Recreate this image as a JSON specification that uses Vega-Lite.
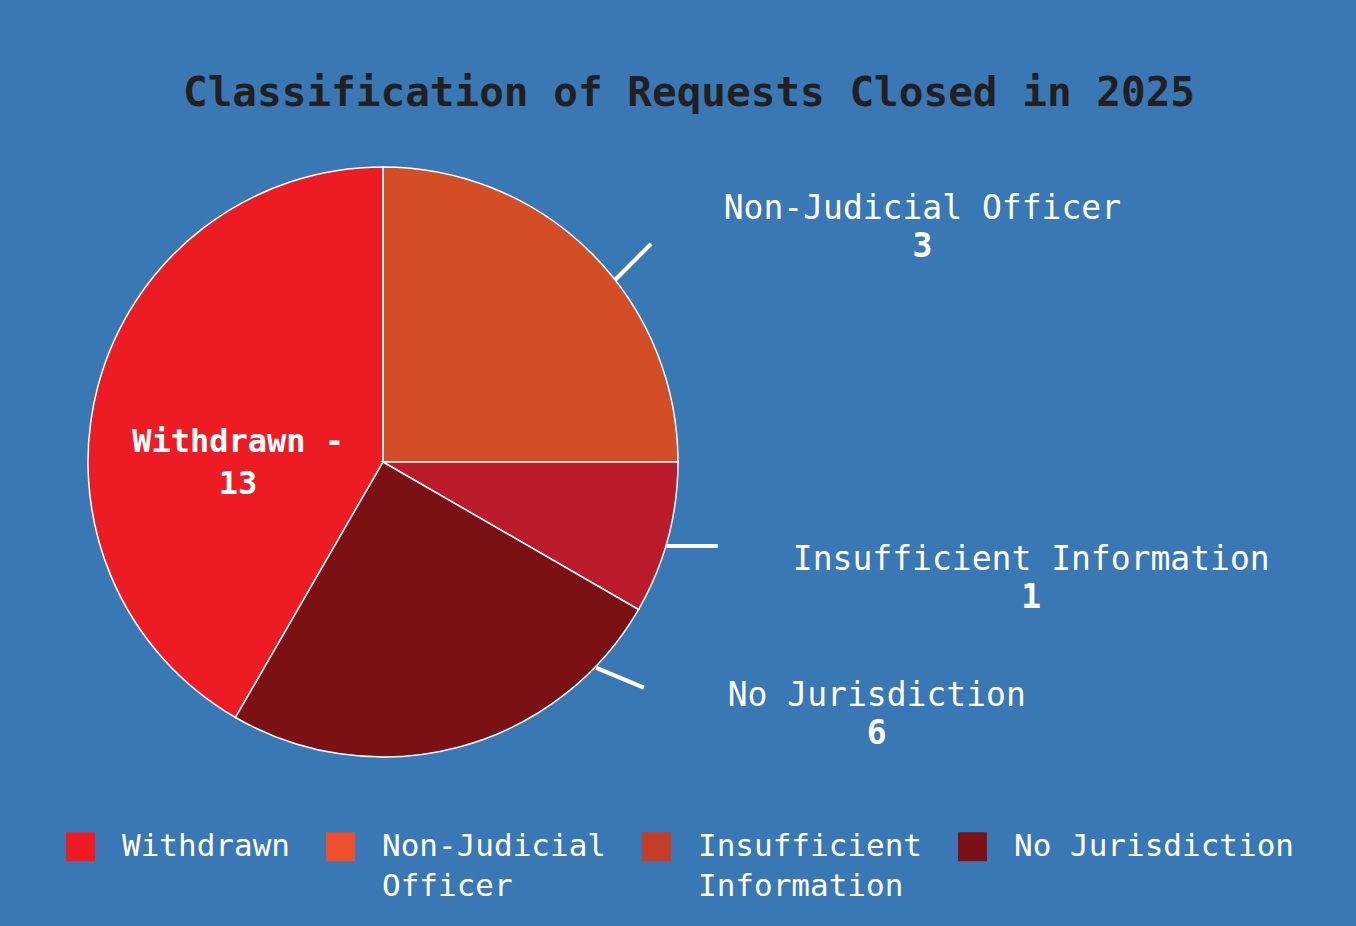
{
  "$schema": "https://vega.github.io/schema/vega-lite/v6.json",
  "autosize": {"type": "none"},
  "width": 590,
  "height": 590,
  "padding": {"left": 88, "top": 167, "right": 678, "bottom": 169},
  "background": "#3978B5",
  "config": {"view": {"stroke": null}},
  "title": {
    "text": "Classification of Requests Closed in 2025",
    "font": "DejaVu Sans Mono",
    "fontSize": 41,
    "fontWeight": "bold",
    "color": "#231F20",
    "anchor": "middle",
    "dx": 306,
    "offset": 49
  },
  "data": {
    "values": [
      {"category": "Withdrawn", "count": 13, "share": 5},
      {"category": "Non-Judicial Officer", "count": 3, "share": 3},
      {"category": "Insufficient Information", "count": 1, "share": 1},
      {"category": "No Jurisdiction", "count": 6, "share": 3}
    ]
  },
  "transform": [{"window": [{"op": "row_number", "as": "idx"}]}],
  "resolve": {"scale": {"theta": "independent", "radius": "independent"}},
  "layer": [
    {
      "mark": {"type": "arc", "stroke": "white", "strokeWidth": 1.5},
      "encoding": {
        "theta": {"field": "share", "type": "quantitative", "stack": true, "scale": {"range": [3.66519, 9.94838]}},
        "order": {"field": "idx", "type": "quantitative"},
        "fill": {
          "field": "category",
          "type": "nominal",
          "scale": {
            "domain": ["Non-Judicial Officer", "Insufficient Information", "No Jurisdiction", "Withdrawn"],
            "range": ["#D34D27", "#BB1C2C", "#7B1114", "#ED1C24"]
          },
          "legend": null
        }
      }
    },
    {
      "mark": {"type": "arc", "radius": 0, "strokeWidth": 0},
      "encoding": {
        "theta": {"field": "share", "type": "quantitative", "stack": true, "scale": {"range": [3.66519, 9.94838]}},
        "order": {"field": "idx", "type": "quantitative"},
        "color": {
          "field": "category",
          "type": "nominal",
          "scale": {
            "domain": ["Withdrawn", "Non-Judicial Officer", "Insufficient Information", "No Jurisdiction"],
            "range": ["#ED1C24", "#EE502D", "#C43D28", "#7B1114"]
          },
          "legend": {
            "orient": "none",
            "legendX": -23,
            "legendY": 664,
            "direction": "horizontal",
            "columns": 4,
            "title": null,
            "padding": 0,
            "symbolType": "square",
            "symbolSize": 841,
            "symbolStrokeWidth": 0,
            "labelFont": "DejaVu Sans Mono",
            "labelFontSize": 31,
            "labelColor": "white",
            "labelLimit": 600,
            "labelOffset": 26,
            "columnPadding": 35,
            "labelBaseline": "middle",
            "labelExpr": "datum.label == 'Non-Judicial Officer' ? ['Non-Judicial', 'Officer'] : datum.label == 'Insufficient Information' ? ['Insufficient', 'Information'] : [datum.label, '']",
            "encode": {"labels": {"update": {"lineHeight": {"value": 40}}}}
          }
        }
      }
    },
    {
      "transform": [{"filter": "datum.category != 'Withdrawn'"}],
      "mark": {"type": "text", "text": "—", "font": "DejaVu Sans", "fontSize": 57, "color": "white", "align": "center", "baseline": "middle", "radius": 320},
      "encoding": {
        "theta": {
          "field": "category",
          "type": "nominal",
          "scale": {"type": "point", "domain": ["Non-Judicial Officer", "Withdrawn", "Insufficient Information", "No Jurisdiction"], "range": [0.89151, 2.30471], "padding": 0}
        },
        "angle": {
          "field": "category",
          "type": "nominal",
          "scale": {"type": "point", "domain": ["Non-Judicial Officer", "Withdrawn", "Insufficient Information", "No Jurisdiction"], "range": [-45, 22.5], "padding": 0},
          "legend": null
        }
      }
    },
    {
      "transform": [{"filter": "datum.category != 'Withdrawn'"}],
      "mark": {"type": "text", "font": "DejaVu Sans Mono", "fontSize": 33, "color": "white", "align": "center", "baseline": "alphabetic", "dy": -7},
      "encoding": {
        "theta": {
          "field": "category",
          "type": "nominal",
          "scale": {"type": "point", "domain": ["Non-Judicial Officer", "Withdrawn", "Insufficient Information", "No Jurisdiction"], "range": [1.15838, 2.04098], "padding": 0}
        },
        "radius": {
          "field": "category",
          "type": "nominal",
          "scale": {"type": "point", "domain": ["No Jurisdiction", "Non-Judicial Officer", "Withdrawn", "Insufficient Information"], "range": [553.85, 658.43], "padding": 0}
        },
        "text": {"field": "category", "type": "nominal"}
      }
    },
    {
      "transform": [{"filter": "datum.category != 'Withdrawn'"}],
      "mark": {"type": "text", "font": "DejaVu Sans Mono", "fontSize": 33, "fontWeight": "bold", "color": "white", "align": "center", "baseline": "alphabetic", "dy": 31},
      "encoding": {
        "theta": {
          "field": "category",
          "type": "nominal",
          "scale": {"type": "point", "domain": ["Non-Judicial Officer", "Withdrawn", "Insufficient Information", "No Jurisdiction"], "range": [1.15838, 2.04098], "padding": 0}
        },
        "radius": {
          "field": "category",
          "type": "nominal",
          "scale": {"type": "point", "domain": ["No Jurisdiction", "Non-Judicial Officer", "Withdrawn", "Insufficient Information"], "range": [553.85, 658.43], "padding": 0}
        },
        "text": {"field": "count", "type": "quantitative"}
      }
    },
    {
      "mark": {"type": "text", "font": "DejaVu Sans Mono", "fontWeight": "bold", "fontSize": 32, "color": "white", "align": "center", "baseline": "middle", "radius": 150, "lineHeight": 42, "dy": 19},
      "encoding": {
        "theta": {"field": "share", "type": "quantitative", "stack": true, "scale": {"range": [3.66519, 9.94838]}},
        "order": {"field": "idx", "type": "quantitative"},
        "text": {"value": {"expr": "datum.category == 'Withdrawn' ? [datum.category + ' -', '' + datum.count] : ''"}}
      }
    }
  ]
}
